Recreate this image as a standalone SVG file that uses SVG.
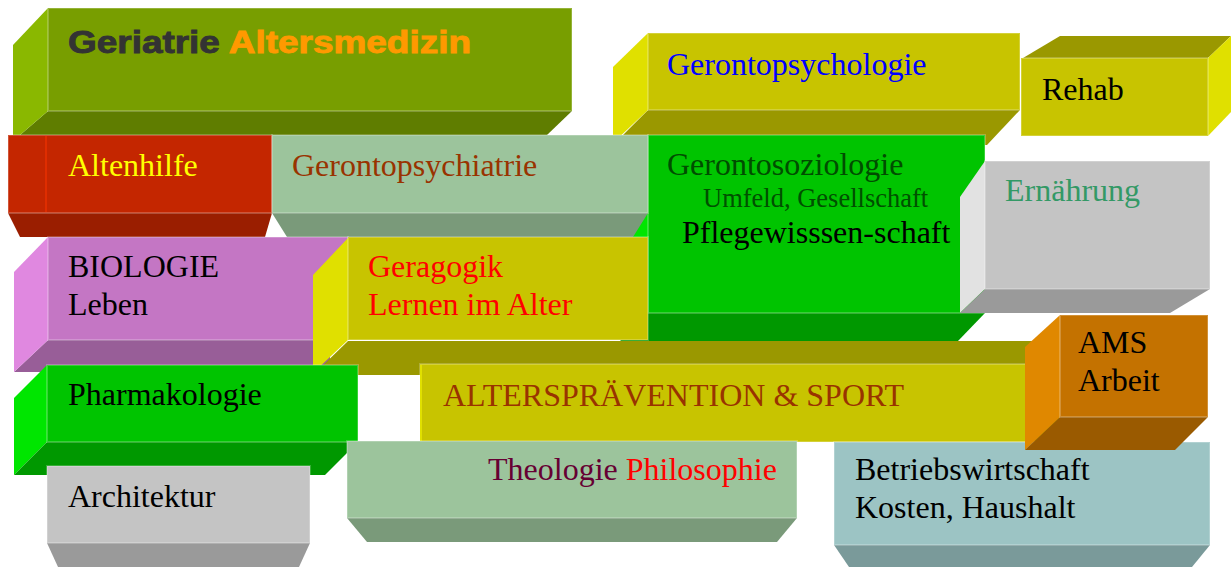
<svg xmlns="http://www.w3.org/2000/svg" width="1231" height="567" viewBox="0 0 1231 567">
<style>
  .t { font-family: "Liberation Serif", "Times New Roman", serif; font-size: 32px; }
  .front { stroke: #ffffff; stroke-opacity: 0.22; stroke-width: 2; }
  .olF { fill: #789e00; } .olL { fill: #8ab800; } .olB { fill: #5f7d00; }
  .yeF { fill: #c8c400; } .yeL { fill: #e0e000; } .yeB { fill: #9a9800; }
  .reF { fill: #c42600; } .reB { fill: #9a1e00; }
  .saF { fill: #9cc49c; } .saB { fill: #7a9a7a; }
  .grF { fill: #00c400; } .grL { fill: #00e600; } .grB { fill: #009800; }
  .gyF { fill: #c4c4c4; } .gyL { fill: #e2e2e2; } .gyB { fill: #9a9a9a; }
  .puF { fill: #c476c4; } .puL { fill: #e088e0; } .puB { fill: #985e98; }
  .orF { fill: #c47200; } .orL { fill: #e08800; } .orB { fill: #9a5a00; }
  .teF { fill: #9cc4c4; } .teB { fill: #7a9a9a; }
</style>

<g id="geriatrie">
  <polygon class="olB" points="48,111 572,111 547,135 20,135"/>
  <polygon class="olL" points="13,45 48,8 48,111 20,135 13,135"/>
  <rect class="olF front" x="48" y="8" width="524" height="103"/>
  <text x="68" y="53" textLength="403" lengthAdjust="spacingAndGlyphs" style="font-family:'Liberation Sans',Arial,sans-serif;font-weight:bold;font-size:31.5px;stroke-width:0.9"><tspan fill="#333333" stroke="#333333">Geriatrie </tspan><tspan fill="#ff9900" stroke="#ff9900">Altersmedizin</tspan></text>
</g>

<g id="gerontopsychologie">
  <polygon class="yeB" points="648,110 1020,110 987,145 613,145"/>
  <polygon class="yeL" points="613,67 648,33 648,110 613,143"/>
  <rect class="yeF front" x="648" y="33" width="372" height="77"/>
  <text class="t" x="667" y="75" fill="#0000ff">Gerontopsychologie</text>
</g>

<g id="rehab">
  <polygon class="yeB" points="1023,58 1060,36 1231,36 1208,58"/>
  <polygon class="yeL" points="1208,58 1231,36 1231,112 1208,136"/>
  <rect class="yeF front" x="1021" y="58" width="187" height="78"/>
  <text class="t" x="1042" y="100" fill="#000000">Rehab</text>
</g>

<g id="gerontosoziologie">
  <polygon class="grL" points="648,135 620,165 620,340 648,313"/>
  <polygon class="grB" points="648,313 985,313 958,341 620,341"/>
  <rect class="grF front" x="648" y="135" width="337" height="178"/>
  <text class="t" x="667" y="175" fill="#004d00">Gerontosoziologie</text>
  <text class="t" x="703" y="207" fill="#005000" style="font-size:26.5px">Umfeld, Gesellschaft</text>
  <text class="t" x="682" y="243" fill="#000000">Pflegewisssen-schaft</text>
</g>

<g id="ernaehrung">
  <polygon class="gyL" points="985,161 960,197 960,313 985,289"/>
  <polygon class="gyB" points="985,289 1210,289 1170,313 960,313"/>
  <rect class="gyF front" x="985" y="161" width="225" height="128"/>
  <text class="t" x="1005" y="201" fill="#339966">Ernährung</text>
</g>

<g id="altenhilfe">
  <polygon class="reB" points="8,213 272,213 265,237 20,237"/>
  <rect class="reF front" x="8" y="135" width="264" height="78"/>
  <line x1="46" y1="136" x2="46" y2="212" stroke="#e83000" stroke-width="1.5"/>
  <text class="t" x="68" y="176" fill="#ffff00">Altenhilfe</text>
</g>

<g id="gerontopsychiatrie">
  <polygon class="saB" points="272,213 648,213 633,237 287,237"/>
  <rect class="saF front" x="272" y="135" width="376" height="78"/>
  <text class="t" x="292" y="176" fill="#993300">Gerontopsychiatrie</text>
</g>

<g id="biologie">
  <polygon class="puB" points="48,340 330,340 330,372 14,372"/>
  <polygon class="puL" points="14,272 48,237 48,340 14,372"/>
  <rect class="puF front" x="48" y="237" width="300" height="103"/>
  <text class="t" x="68" y="277" fill="#000000">BIOLOGIE</text>
  <text class="t" x="68" y="315" fill="#000000">Leben</text>
</g>

<g id="geragogik">
  <polygon class="yeB" points="348,341 1035,341 1035,375 313,375"/>
  <polygon class="yeL" points="313,275 348,238 348,340 313,373"/>
  <rect class="yeF front" x="348" y="237" width="300" height="103"/>
  <text class="t" x="368" y="277" fill="#ff0000">Geragogik</text>
  <text class="t" x="368" y="315" fill="#ff0000">Lernen im Alter</text>
</g>

<g id="pharmakologie">
  <polygon class="grL" points="14,398 47,365 47,442 14,475"/>
  <polygon class="grB" points="47,442 358,442 325,475 14,475"/>
  <rect class="grF front" x="47" y="365" width="311" height="77"/>
  <text class="t" x="68" y="405" fill="#000000">Pharmakologie</text>
</g>

<g id="alterspraevention">
  <rect class="yeF front" x="420" y="364" width="640" height="78"/>
  <line x1="421" y1="365" x2="421" y2="441" stroke="#e0e000" stroke-width="2"/>
  <text class="t" x="443" y="406" fill="#993300">ALTERSPRÄVENTION &amp; SPORT</text>
</g>

<g id="architektur">
  <polygon class="gyB" points="47,543 310,543 299,567 58,567"/>
  <rect class="gyF front" x="47" y="466" width="263" height="77"/>
  <text class="t" x="68" y="507" fill="#000000">Architektur</text>
</g>

<g id="theologie">
  <polygon class="saB" points="347,518 797,518 777,542 367,542"/>
  <rect class="saF front" x="347" y="441" width="450" height="77"/>
  <text class="t" x="488" y="480"><tspan fill="#660033">Theologie </tspan><tspan fill="#ff0000">Philosophie</tspan></text>
</g>

<g id="betriebswirtschaft">
  <polygon class="teB" points="834,545 1210,545 1192,567 849,567"/>
  <rect class="teF front" x="834" y="442" width="376" height="103"/>
  <text class="t" x="855" y="480" fill="#000000">Betriebswirtschaft</text>
  <text class="t" x="855" y="518" fill="#000000">Kosten, Haushalt</text>
</g>

<g id="ams">
  <polygon class="orL" points="1060,315 1025,347 1025,450 1060,417"/>
  <polygon class="orB" points="1060,417 1208,417 1175,450 1025,450"/>
  <rect class="orF front" x="1060" y="315" width="148" height="102"/>
  <text class="t" x="1078" y="353" fill="#000000">AMS</text>
  <text class="t" x="1078" y="391" fill="#000000">Arbeit</text>
</g>
</svg>
